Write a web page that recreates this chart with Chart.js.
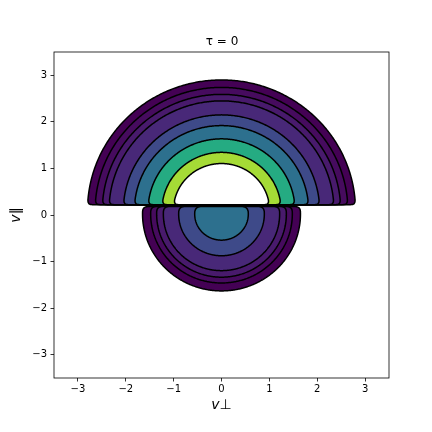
<!DOCTYPE html>
<html>
<head>
<meta charset="utf-8">
<script src="https://cdn.jsdelivr.net/npm/chart.js@4"></script>
<style>
  html, body { margin: 0; padding: 0; background: #fff; }
  #wrap { width: 432px; height: 432px; }
</style>
</head>
<body>
<div id="wrap"><canvas id="contours" width="432" height="432"></canvas></div>
<script>
// contour radii, outermost first (last upper one bounds the empty hole)
const upperRadii = [2.80, 2.64, 2.49, 2.35, 2.05, 1.82, 1.535, 1.245, 1.005];
const lowerRadii = [1.65, 1.48, 1.355, 1.215, 0.895, 0.56];
// centre of the circles and the v_par where each half is cut off
const upperCenter = 0.1, upperCut = 0.22;
const lowerCenter = 0.02, lowerCut = 0.18;
const xTicks = [-3, -2, -1, 0, 1, 2, 3];
const yTicks = [-3, -2, -1, 0, 1, 2, 3];

const upperColors = ['#440154', '#460b5e', '#481a6c', '#482878', '#3e4a89', '#2d708e', '#25ab82', '#a5db36', '#ffffff'];
const lowerColors = ['#440154', '#460b5e', '#481a6c', '#482878', '#3e4a89', '#2d708e'];

// closed outline of a circle cut by a horizontal line, with small rounded corners
function capShape(r, cy, cut, dir) {
  const rc = 0.1;
  const yA = cut + dir * rc;
  const phi = Math.asin((yA - cy) / r);
  const xA = r * Math.cos(phi);
  const xP = Math.sqrt(r * r - (cut - cy) * (cut - cy));
  const bez = (a, p, b, t) => (1 - t) * (1 - t) * a + 2 * (1 - t) * t * p + t * t * b;
  const pts = [];
  for (let t = 0; t < 1; t += 0.25) {
    pts.push({x: bez(xP - rc, xP, xA, t), y: bez(cut, cut, yA, t)});
  }
  const end = dir * Math.PI - phi;
  const n = 140;
  for (let i = 0; i <= n; i++) {
    const a = phi + (end - phi) * i / n;
    pts.push({x: r * Math.cos(a), y: cy + r * Math.sin(a)});
  }
  for (let t = 0.25; t <= 1.001; t += 0.25) {
    pts.push({x: -bez(xA, xP, xP - rc, t), y: bez(yA, cut, cut, t)});
  }
  pts.push(pts[0]);
  return pts;
}

const datasets = [];
upperRadii.forEach((r, i) => {
  datasets.push({
    data: capShape(r, upperCenter, upperCut, 1),
    backgroundColor: upperColors[i],
    order: 100 - i
  });
});
lowerRadii.forEach((r, i) => {
  datasets.push({
    data: capShape(r, lowerCenter, lowerCut, -1),
    backgroundColor: lowerColors[i],
    order: 50 - i
  });
});
datasets.forEach(d => {
  d.showLine = true;
  d.fill = 'shape';
  d.borderColor = '#000';
  d.borderWidth = 1.5;
  d.pointRadius = 0;
  d.tension = 0.0001;
});

const minus = v => (v < 0 ? '\u2212' + (-v) : '' + v);

const frame = {
  id: 'frame',
  afterDraw(chart) {
    const {ctx, chartArea: a} = chart;
    ctx.save();
    ctx.strokeStyle = '#000';
    ctx.lineWidth = 0.8;
    ctx.strokeRect(a.left, a.top, a.right - a.left, a.bottom - a.top);
    ctx.restore();
  }
};

const tickFont = {family: 'DejaVu Sans', size: 10};

new Chart(document.getElementById('contours'), {
  type: 'scatter',
  data: {datasets: datasets},
  options: {
    responsive: false,
    animation: false,
    events: [],
    layout: {padding: {top: 35, right: 0, bottom: 0, left: 12}},
    plugins: {
      legend: {display: false},
      tooltip: {enabled: false},
      title: {
        display: true,
        text: '\u03c4 = 0',
        color: '#000',
        font: {family: 'DejaVu Sans', size: 12, weight: 'normal'},
        padding: {top: 0, bottom: 2.6}
      }
    },
    scales: {
      x: {
        type: 'linear',
        min: -3.5,
        max: 3.5,
        afterBuildTicks: s => { s.ticks = xTicks.map(v => ({value: v})); },
        afterFit: s => { s.height = 54; },
        ticks: {color: '#000', font: tickFont, padding: 2, maxRotation: 0, callback: minus},
        grid: {drawOnChartArea: false, drawTicks: true, tickLength: 3.5, color: '#000', lineWidth: 0.8},
        border: {display: false},
        title: {
          display: true,
          text: 'v\u22a5',
          color: '#000',
          font: {family: 'DejaVu Sans', size: 14, style: 'italic'},
          padding: {top: 0, bottom: 18.6}
        }
      },
      y: {
        type: 'linear',
        min: -3.5,
        max: 3.5,
        afterBuildTicks: s => { s.ticks = yTicks.map(v => ({value: v})); },
        afterFit: s => { s.width = 42; },
        ticks: {color: '#000', font: tickFont, padding: 3.5, callback: minus},
        grid: {drawOnChartArea: false, drawTicks: true, tickLength: 3.5, color: '#000', lineWidth: 0.8},
        border: {display: false},
        title: {
          display: true,
          text: 'v\u2225',
          color: '#000',
          font: {family: 'DejaVu Sans', size: 14, style: 'italic'},
          padding: {top: -4.4, bottom: 0}
        }
      },
      // empty right-hand axis that only reserves the margin
      yr: {
        type: 'linear',
        position: 'right',
        min: -3.5,
        max: 3.5,
        afterFit: s => { s.width = 43; },
        ticks: {display: false},
        grid: {display: false},
        border: {display: false}
      }
    }
  },
  plugins: [frame]
});
</script>
</body>
</html>
